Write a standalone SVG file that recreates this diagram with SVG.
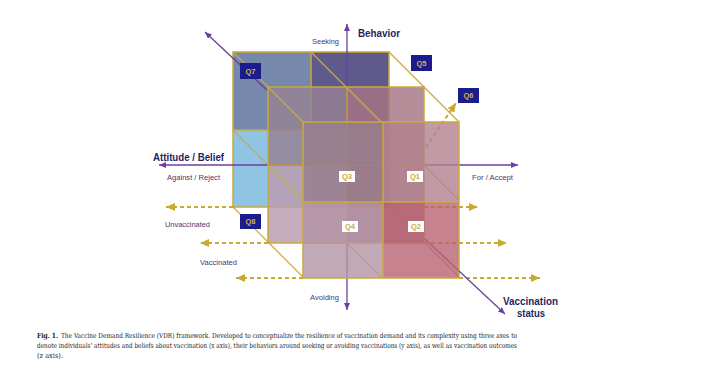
<svg xmlns="http://www.w3.org/2000/svg" width="711" height="376" viewBox="0 0 711 376">
<style>
.g{stroke:#c9a93c;stroke-width:1.5;fill:none}
.gd{stroke:#c9a93c;stroke-width:1.2;fill:none}
.dash{stroke:#c9aa30;stroke-width:2;stroke-dasharray:4 3;fill:none;marker-end:url(#ga)}
.ax{stroke:#6b3fa0;stroke-width:1.3;fill:none}
.lab{font-family:"Liberation Sans",Arial,sans-serif;font-size:8px;fill:#4b3575}
.big{font-family:"Liberation Sans",Arial,sans-serif;font-size:11px;font-weight:bold;fill:#1f1f5f}
.qd{fill:#1c1c8c}
.qw{fill:#ffffff}
.qt{font-family:"Liberation Sans",Arial,sans-serif;font-size:7.5px;font-weight:bold;fill:#d2b448;text-anchor:middle}
.qt2{font-family:"Liberation Sans",Arial,sans-serif;font-size:7.5px;font-weight:bold;fill:#c9a93c;text-anchor:middle}
.cap{font-family:"DejaVu Serif","Liberation Serif",serif;font-size:7px;fill:#1a1a1a}
</style>
<defs>
<marker id="ga" markerUnits="userSpaceOnUse" markerWidth="9" markerHeight="8" refX="9" refY="4" orient="auto"><path d="M0,0 L9,4 L0,8 z" fill="#c9aa30"/></marker>
<marker id="pa" markerUnits="userSpaceOnUse" markerWidth="7" markerHeight="6" refX="7" refY="3" orient="auto-start-reverse"><path d="M0,0 L7,3 L0,6 z" fill="#6b3fa0"/></marker>
</defs>
<rect width="711" height="376" fill="#ffffff"/>

<!-- back layer -->
<g id="layer-back">
<rect x="233" y="52" width="78" height="78" fill="#7688ac"/>
<rect x="311" y="52" width="78" height="78" fill="#5f5a8c"/>
<rect x="233" y="130" width="78" height="77" fill="#90c4e4"/>
<rect x="311" y="130" width="78" height="77" fill="#9a7890"/>
</g>
<g id="back-arrows">
<line class="dash" x1="233" y1="207" x2="166" y2="207"/>
<line class="dash" x1="389" y1="207" x2="478" y2="207"/>
</g>
<g id="back-grid">
<rect class="g" x="233" y="52" width="156" height="155"/>
<line class="g" x1="311" y1="52" x2="311" y2="207"/>
<line class="g" x1="233" y1="130" x2="389" y2="130"/>
</g>
<g id="diag-back-mid">
<line class="gd" x1="233" y1="52" x2="268" y2="87"/>
<line class="gd" x1="311" y1="52" x2="346" y2="87"/>
<line class="gd" x1="389" y1="52" x2="424" y2="87"/>
<line class="gd" x1="233" y1="130" x2="268" y2="165" stroke="#e8e0b0"/>
<line class="gd" x1="311" y1="130" x2="346" y2="165"/>
<line class="gd" x1="389" y1="130" x2="424" y2="165"/>
<line class="gd" x1="233" y1="207" x2="268" y2="242"/>
<line class="gd" x1="311" y1="207" x2="346" y2="242"/>
<line class="gd" x1="389" y1="207" x2="424" y2="242"/>
</g>
<g id="zaxis-top">
<line class="ax" x1="205" y1="32" x2="268" y2="91" marker-start="url(#pa)"/>
</g>

<!-- middle layer -->
<g id="layer-middle" opacity="0.82">
<rect x="268" y="87" width="79" height="78" fill="#958293"/>
<rect x="347" y="87" width="77" height="78" fill="#a77685"/>
<rect x="268" y="165" width="79" height="78" fill="#ba9cb0"/>
<rect x="347" y="165" width="77" height="78" fill="#a87080"/>
</g>
<g id="axes">
<line class="ax" x1="159" y1="165" x2="518" y2="165" marker-start="url(#pa)" marker-end="url(#pa)"/>
<line class="ax" x1="347" y1="24" x2="347" y2="310" marker-start="url(#pa)" marker-end="url(#pa)"/>
<line class="ax" x1="424" y1="238" x2="459" y2="271"/>
</g>
<g id="mid-arrows">
<line class="dash" x1="268" y1="243" x2="200" y2="243"/>
<line class="dash" x1="424" y1="243" x2="507" y2="243"/>
<line class="dash" x1="418" y1="159" x2="456" y2="103"/>
</g>
<g id="mid-grid">
<rect class="g" x="268" y="87" width="156" height="156"/>
<line class="g" x1="347" y1="87" x2="347" y2="243"/>
<line class="g" x1="268" y1="165" x2="424" y2="165"/>
</g>
<g id="diag-mid-front">
<line class="gd" x1="268" y1="87" x2="303" y2="122"/>
<line class="gd" x1="346" y1="87" x2="381" y2="122"/>
<line class="gd" x1="424" y1="87" x2="459" y2="122"/>
<line class="gd" x1="268" y1="165" x2="303" y2="200"/>
<line class="gd" x1="346" y1="165" x2="381" y2="200"/>
<line class="gd" x1="424" y1="165" x2="459" y2="200"/>
<line class="gd" x1="268" y1="242" x2="303" y2="277"/>
<line class="gd" x1="346" y1="242" x2="381" y2="277"/>
<line class="gd" x1="424" y1="242" x2="459" y2="277"/>
</g>

<!-- front layer -->
<g id="layer-front" opacity="0.8">
<rect x="303" y="122" width="80" height="80" fill="#987f8e"/>
<rect x="383" y="122" width="76" height="80" fill="#b2828f"/>
<rect x="303" y="202" width="80" height="76" fill="#b494a5"/>
<rect x="383" y="202" width="76" height="76" fill="#b86474"/>
</g>
<g id="front-grid">
<rect class="g" x="303" y="122" width="156" height="156"/>
<line class="g" x1="383" y1="122" x2="383" y2="278"/>
<line class="g" x1="303" y1="202" x2="459" y2="202"/>
</g>
<g id="front-arrows">
<line class="dash" x1="303" y1="278" x2="236" y2="278"/>
<line class="dash" x1="459" y1="278" x2="540" y2="278"/>
<line class="ax" x1="459" y1="271" x2="505" y2="314" marker-end="url(#pa)"/>
</g>

<!-- labels -->
<g id="axis-labels">
<text class="big" x="358" y="37" textLength="42" lengthAdjust="spacingAndGlyphs">Behavior</text>
<text class="lab" x="312" y="44" textLength="27" lengthAdjust="spacingAndGlyphs">Seeking</text>
<text class="big" x="153" y="161" textLength="71" lengthAdjust="spacingAndGlyphs">Attitude / Belief</text>
<text class="lab" x="167" y="180" textLength="53" lengthAdjust="spacingAndGlyphs">Against / Reject</text>
<text class="lab" x="472" y="180" textLength="41" lengthAdjust="spacingAndGlyphs">For / Accept</text>
<text class="lab" x="165" y="227" textLength="45" lengthAdjust="spacingAndGlyphs">Unvaccinated</text>
<text class="lab" x="200" y="265" textLength="37" lengthAdjust="spacingAndGlyphs">Vaccinated</text>
<text class="lab" x="310" y="300" textLength="29" lengthAdjust="spacingAndGlyphs">Avoiding</text>
<text class="big" x="503" y="305" textLength="55" lengthAdjust="spacingAndGlyphs">Vaccination</text>
<text class="big" x="517" y="317" textLength="28" lengthAdjust="spacingAndGlyphs">status</text>
</g>
<g id="Q7"><rect class="qd" x="240" y="63" width="21" height="16"/><text class="qt" x="250.5" y="73.8">Q7</text></g>
<g id="Q5"><rect class="qd" x="411" y="55" width="21" height="16"/><text class="qt" x="421.5" y="65.8">Q5</text></g>
<g id="Q6"><rect class="qd" x="458" y="88" width="21" height="15"/><text class="qt" x="468.5" y="98.3">Q6</text></g>
<g id="Q8"><rect class="qd" x="240" y="214" width="21" height="15"/><text class="qt" x="250.5" y="224.3">Q8</text></g>
<g id="Q3"><rect class="qw" x="339" y="171" width="16" height="11"/><text class="qt2" x="347" y="179.3">Q3</text></g>
<g id="Q1"><rect class="qw" x="407" y="171" width="16" height="11"/><text class="qt2" x="415" y="179.3">Q1</text></g>
<g id="Q4"><rect class="qw" x="342" y="221" width="16" height="11"/><text class="qt2" x="350" y="229.3">Q4</text></g>
<g id="Q2"><rect class="qw" x="408" y="221" width="16" height="11"/><text class="qt2" x="416" y="229.3">Q2</text></g>

<g id="caption">
<text class="cap" x="37" y="337.5" font-weight="bold" textLength="21" lengthAdjust="spacingAndGlyphs">Fig. 1.</text>
<text class="cap" x="61" y="337.5" textLength="456" lengthAdjust="spacingAndGlyphs">The Vaccine Demand Resilience (VDR) framework. Developed to conceptualize the resilience of vaccination demand and its complexity using three axes to</text>
<text class="cap" x="37" y="347.5" textLength="480" lengthAdjust="spacingAndGlyphs">denote individuals’ attitudes and beliefs about vaccination (x axis), their behaviors around seeking or avoiding vaccinations (y axis), as well as vaccination outcomes</text>
<text class="cap" x="37" y="357.5" textLength="26" lengthAdjust="spacingAndGlyphs">(z axis).</text>
</g>
</svg>
